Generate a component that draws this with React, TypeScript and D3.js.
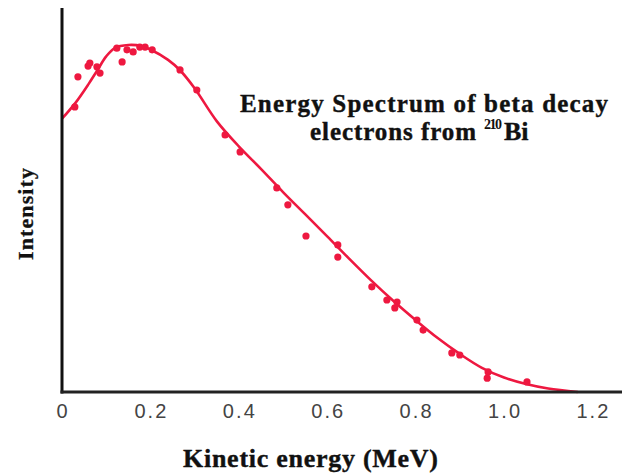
import React from "react";
import * as d3 from "d3";

// Fitted spectrum curve (kinetic energy MeV, relative intensity)
const curveEnergy = [0, 0.03, 0.06, 0.08, 0.1, 0.12, 0.15, 0.18, 0.2, 0.24, 0.267, 0.3, 0.35, 0.4, 0.45, 0.5, 0.55, 0.6, 0.65, 0.7, 0.75, 0.8, 0.85, 0.9, 0.95, 1.0, 1.05, 1.1, 1.167];
const curveIntensity = [79, 83.5, 89, 93, 97, 99.5, 100.3, 100, 99, 96, 93, 87.8, 78.3, 71, 64.5, 57.8, 51.4, 45, 38.5, 32.2, 26.3, 20.8, 15.6, 11, 7, 4.2, 2.3, 1, 0];

// Measured data points
const pointEnergy = [0.029, 0.036, 0.059, 0.063, 0.079, 0.086, 0.124, 0.136, 0.147, 0.161, 0.176, 0.188, 0.204, 0.267, 0.305, 0.369, 0.403, 0.486, 0.511, 0.552, 0.624, 0.624, 0.701, 0.735, 0.758, 0.753, 0.803, 0.817, 0.882, 0.900, 0.964, 0.962, 1.052];
const pointIntensity = [82.4, 91.1, 94.2, 95.1, 94.0, 92.2, 99.4, 95.4, 98.9, 98.3, 99.7, 99.7, 98.9, 93.1, 87.3, 74.3, 69.4, 59.0, 54.1, 45.1, 42.5, 39.0, 30.4, 26.6, 26.0, 24.3, 20.8, 17.9, 11.3, 10.7, 5.8, 4.0, 2.9];

const xTicks = [0, 0.2, 0.4, 0.6, 0.8, 1.0, 1.2];
const xTickLabels = ["0", "0.2", "0.4", "0.6", "0.8", "1.0", "1.2"];

const titleLine1 = "Energy Spectrum of beta decay";
const titleLine2 = "electrons from";
const titleSup = "210";
const titleElement = "Bi";
const xLabel = "Kinetic energy (MeV)";
const yLabel = "Intensity";

const W = 622;
const H = 474;
const RED = "#ee1840";

export default function App() {
  const x = d3.scaleLinear().domain([0, 1.2]).range([62, 592.4]);
  const y = d3.scaleLinear().domain([0, 111]).range([392, 8]);

  const curveData = curveEnergy.map((e, i) => [e, curveIntensity[i]] as [number, number]);
  const line = d3
    .line<[number, number]>()
    .x((d) => x(d[0]))
    .y((d) => y(d[1]))
    .curve(d3.curveCatmullRom.alpha(0.5));

  const serif = "'Liberation Serif', 'Times New Roman', serif";
  const sans = "'Liberation Sans', Arial, sans-serif";

  return (
    <svg
      width={W}
      height={H}
      style={{ position: "fixed", left: 0, top: 0, background: "#fff" }}
    >
      <rect width={W} height={H} fill="#fff" />
      {/* curve */}
      <path d={line(curveData) || ""} fill="none" stroke={RED} strokeWidth={2.6} strokeLinejoin="round" />
      {/* points */}
      {pointEnergy.map((e, i) => (
        <circle key={i} cx={x(e)} cy={y(pointIntensity[i])} r={3.6} fill={RED} />
      ))}
      {/* axes */}
      <line x1={x(0)} x2={x(0)} y1={y(111)} y2={y(0) + 1.5} stroke="#111" strokeWidth={3} />
      <line x1={x(0) - 1.5} x2={W} y1={y(0)} y2={y(0)} stroke="#222" strokeWidth={3} />
      {/* tick labels */}
      {xTicks.map((t, i) => (
        <text
          key={t}
          x={x(t)}
          y={418}
          textAnchor="middle"
          fontFamily={sans}
          fontSize={20}
          fill="#444"
          textLength={xTickLabels[i].length > 1 ? 32 : undefined}
          lengthAdjust="spacing"
        >
          {xTickLabels[i]}
        </text>
      ))}
      {/* x label */}
      <text
        x={183}
        y={467}
        fontFamily={serif}
        fontWeight="bold"
        fontSize={26}
        fill="#111"
        stroke="#111"
        strokeWidth={0.4}
        textLength={255}
        lengthAdjust="spacing"
      >
        {xLabel}
      </text>
      {/* y label */}
      <text
        transform="translate(33,260) rotate(-90)"
        fontFamily={serif}
        fontWeight="bold"
        fontSize={22}
        fill="#111"
        stroke="#111"
        strokeWidth={0.3}
        textLength={92}
        lengthAdjust="spacing"
      >
        {yLabel}
      </text>
      {/* title */}
      <text
        x={240}
        y={112}
        fontFamily={serif}
        fontWeight="bold"
        fontSize={25}
        fill="#111"
        stroke="#111"
        strokeWidth={0.4}
        textLength={368}
        lengthAdjust="spacing"
      >
        {titleLine1}
      </text>
      <text
        x={310}
        y={140}
        fontFamily={serif}
        fontWeight="bold"
        fontSize={25}
        fill="#111"
        stroke="#111"
        strokeWidth={0.4}
        textLength={166}
        lengthAdjust="spacing"
      >
        {titleLine2}
      </text>
      <text
        x={484}
        y={129}
        fontFamily={serif}
        fontWeight="bold"
        fontSize={14}
        fill="#111"
        textLength={18}
        lengthAdjust="spacing"
      >
        {titleSup}
      </text>
      <text
        x={504}
        y={140}
        fontFamily={serif}
        fontWeight="bold"
        fontSize={26}
        fill="#111"
        stroke="#111"
        strokeWidth={0.4}
      >
        {titleElement}
      </text>
    </svg>
  );
}
